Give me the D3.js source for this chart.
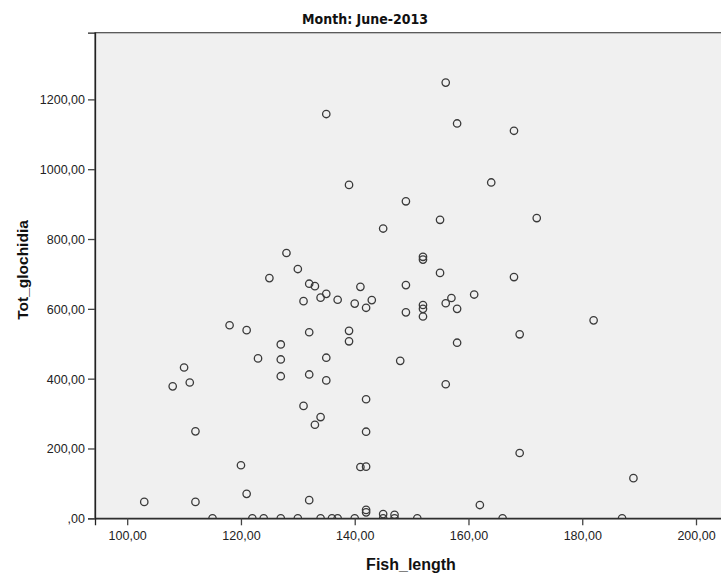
<!DOCTYPE html>
<html>
<head>
<meta charset="utf-8">
<script src="https://cdn.jsdelivr.net/npm/d3@7"></script>
<style>
  html, body { margin: 0; padding: 0; background: #ffffff; }
  svg { display: block; }
  .tick text { font-family: "Liberation Sans", Arial, sans-serif; font-size: 12.5px; fill: #222; }
</style>
</head>
<body>
<svg id="chart" width="721" height="573"></svg>
<script>
// Fish length (mm) and total glochidia count per fish, June 2013
const fishLength = [
  156, 135, 158, 168, 139, 164, 149, 155, 172, 145,
  128, 152, 152, 130, 155, 168, 125, 132, 133, 141,
  149, 135, 134, 131, 137, 140, 143, 142, 149, 152,
  152, 152, 156, 157, 158, 161, 182, 118, 121, 132,
  139, 169, 139, 158, 127, 123, 127, 135, 148, 110,
  132, 127, 135, 111, 156, 108, 142, 131, 134, 133,
  112, 142, 169, 120, 141, 142, 189, 121, 132, 103,
  112, 162, 142, 142, 145, 147,
  115, 122, 124, 127, 130, 134, 136, 137, 140, 145,
  147, 151, 166, 187
];
const totGlochidia = [
  1248, 1158, 1131, 1110, 955, 962, 908, 855, 860, 830,
  760, 749, 741, 714, 703, 691, 688, 672, 665, 663,
  668, 643, 632, 622, 626, 615, 625, 603, 590, 611,
  600, 578, 616, 631, 600, 641, 567, 553, 539, 533,
  537, 527, 507, 503, 498, 458, 455, 460, 451, 432,
  412, 407, 395, 389, 384, 378, 341, 322, 290, 268,
  249, 248, 187, 152, 147, 148, 115, 70, 52, 47,
  47, 38, 24, 17, 12, 10,
  0, 0, 0, 0, 0, 0, 0, 0, 0, 0,
  0, 0, 0, 0
];

const xTicks = [100, 120, 140, 160, 180, 200];
const yTicks = [0, 200, 400, 600, 800, 1000, 1200];
const xDomain = [94.34, 205.45];
const yDomain = [0, 1391];

const titleText = "Month: June-2013";
const xTitle = "Fish_length";
const yTitle = "Tot_glochidia";

const svg = d3.select("#chart");
const plot = { left: 95, top: 32.7, right: 727, bottom: 518.3 };

const x = d3.scaleLinear().domain(xDomain).range([plot.left, plot.right]);
const y = d3.scaleLinear().domain(yDomain).range([plot.bottom, plot.top]);

// decimal comma formatting, zero shown as ",00"
const fmt = v => v === 0 ? ",00" : d3.format(".2f")(v).replace(".", ",");

// plot background
svg.append("rect")
  .attr("x", plot.left).attr("y", plot.top)
  .attr("width", plot.right - plot.left).attr("height", plot.bottom - plot.top)
  .attr("fill", "#f0f0f0")
  .attr("stroke", "#4a4a4a").attr("stroke-width", 1.2);

svg.append("defs").append("clipPath").attr("id", "plotClip")
  .append("rect")
  .attr("x", plot.left).attr("y", plot.top)
  .attr("width", plot.right - plot.left).attr("height", plot.bottom - plot.top);

// points
const data = fishLength.map((d, i) => ({ len: d, glo: totGlochidia[i] }));
svg.append("g").attr("clip-path", "url(#plotClip)")
  .selectAll("circle").data(data).join("circle")
  .attr("cx", d => x(d.len))
  .attr("cy", d => y(d.glo))
  .attr("r", 3.7)
  .attr("fill", "none")
  .attr("stroke", "#3a3a3a")
  .attr("stroke-width", 1.3);

// axes
const xAxis = svg.append("g")
  .attr("transform", `translate(0,${plot.bottom})`)
  .call(d3.axisBottom(x).tickValues(xTicks).tickFormat(fmt).tickSize(7).tickPadding(6));
const yAxis = svg.append("g")
  .attr("transform", `translate(${plot.left},0)`)
  .call(d3.axisLeft(y).tickValues(yTicks).tickFormat(fmt).tickSize(7).tickPadding(3));

[xAxis, yAxis].forEach(g => {
  g.select(".domain").attr("stroke", "#222").attr("stroke-width", 1.3);
  g.selectAll(".tick line").attr("stroke", "#444").attr("stroke-width", 1.3);
});
yAxis.selectAll(".tick text").attr("dy", "0.36em");

// titles
svg.append("text")
  .attr("x", 365).attr("y", 24)
  .attr("text-anchor", "middle")
  .attr("font-family", "'Liberation Sans Narrow', 'Arial Narrow', 'DejaVu Sans Condensed', sans-serif")
  .attr("font-weight", "bold").attr("font-size", 14).attr("fill", "#111")
  .text(titleText);

svg.append("text")
  .attr("x", (plot.left + plot.right) / 2).attr("y", 570)
  .attr("text-anchor", "middle")
  .attr("font-family", "'Liberation Sans', Arial, sans-serif")
  .attr("font-weight", "bold").attr("font-size", 16).attr("fill", "#111")
  .text(xTitle);

svg.append("text")
  .attr("transform", "translate(28,270) rotate(-90)")
  .attr("text-anchor", "middle")
  .attr("font-family", "'Liberation Sans', Arial, sans-serif")
  .attr("font-weight", "bold").attr("font-size", 15.5).attr("fill", "#111")
  .text(yTitle);
</script>
</body>
</html>
